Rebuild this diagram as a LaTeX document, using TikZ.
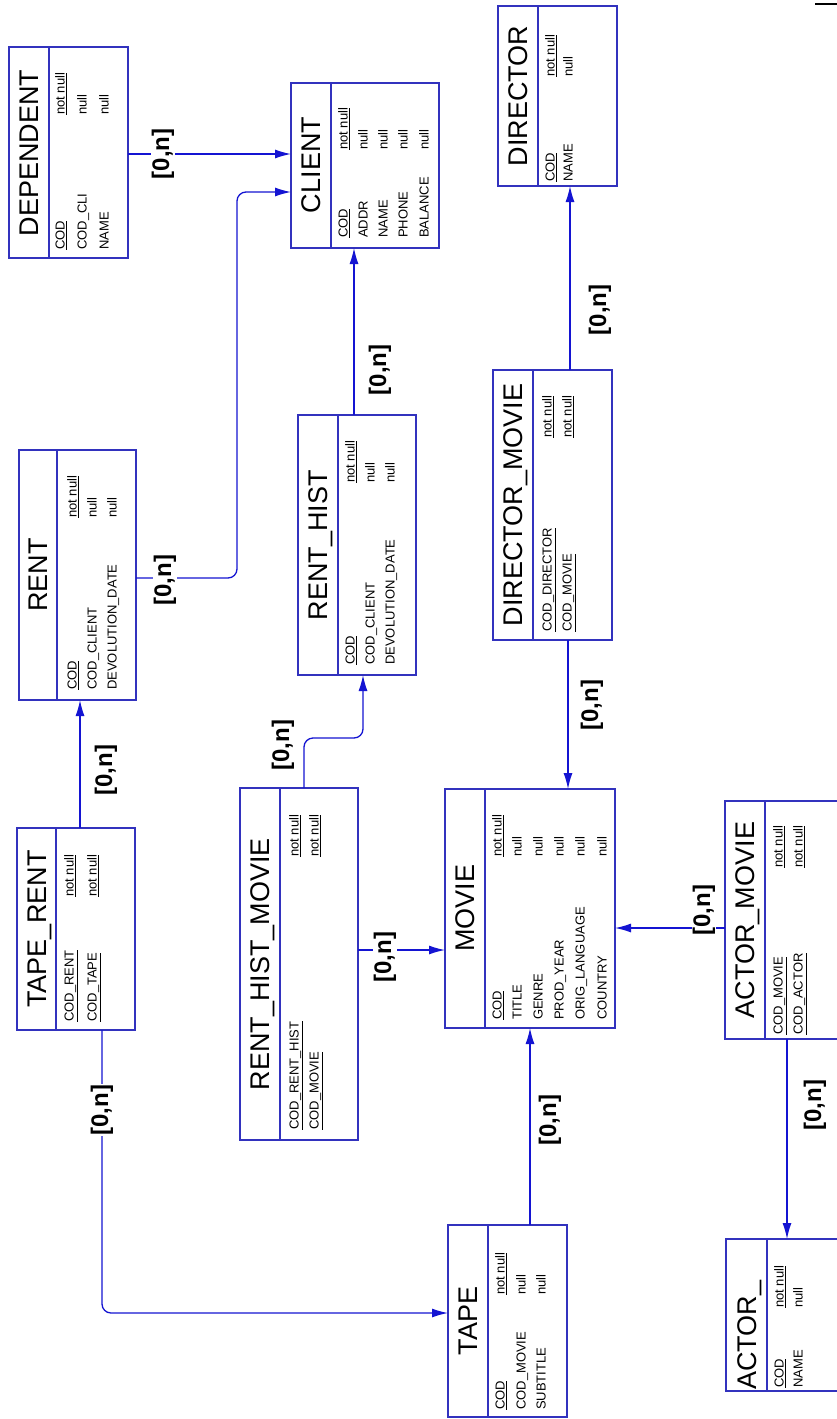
\documentclass[tikz,border=0pt]{standalone}
\usepackage{fontspec}
\setmainfont{Liberation Sans}
\usetikzlibrary{arrows.meta,fit}

\definecolor{erblue}{RGB}{50,50,190}
\definecolor{fkblue}{RGB}{20,20,210}

\tikzset{
  tbl/.style={draw=erblue, line width=1.2pt, inner sep=0pt, outer sep=0pt},
  ttl/.style={rotate=90, anchor=base, inner sep=0pt, font=\fontsize{27}{27}\selectfont},
  attr/.style={rotate=90, anchor=base west, inner sep=0pt, font=\fontsize{13}{13}\selectfont},
  fk/.style={draw=fkblue, line width=1.3pt, rounded corners=9pt, -{Latex[length=16pt,width=9pt]}},
  card/.style={rotate=90, fill=white, inner sep=1pt, font=\bfseries\fontsize{24}{24}\selectfont}
}

\begin{document}
\begin{tikzpicture}[x=1pt,y=-1pt]
  \clip (0,0) rectangle (837,1419);
  \fill[white] (0,0) rectangle (837,1419);
  \draw[line width=2pt] (815,4) -- (837,4);

  % Tables
  \node[tbl, fit={(9,47) (128,258)}] (dependent) {};
  \node[tbl, fit={(291,83) (439,248)}] (client) {};
  \node[tbl, fit={(498,6) (617,186)}] (director) {};
  \node[tbl, fit={(19,450) (136,700)}] (rent) {};
  \node[tbl, fit={(298,415) (416,675)}] (renthist) {};
  \node[tbl, fit={(493,370) (612,640)}] (dirmovie) {};
  \node[tbl, fit={(17,828) (135,1030)}] (taperent) {};
  \node[tbl, fit={(240,788) (358,1140)}] (rhmovie) {};
  \node[tbl, fit={(445,789) (615,1028)}] (movie) {};
  \node[tbl, fit={(725,801) (850,1039)}] (actormovie) {};
  \node[tbl, fit={(448,1225) (567,1417)}] (tape) {};
  \node[tbl, fit={(726,1239) (850,1391)}] (actor) {};

  % Dividers
  \foreach \x/\t/\b in {49/47/258, 331/83/248, 538/6/186, 57/450/700, 338/415/675,
                        533/370/640, 56/828/1030, 280/788/1140, 485/789/1028,
                        765/801/1039, 488/1225/1417, 767/1239/1391}
    \draw[draw=erblue, line width=1.2pt] (\x,\t) -- (\x,\b);

  % Titles
  \node[ttl] (t-dependent) at (38,153) {DEPENDENT};
  \node[ttl] (t-client) at (320,165) {CLIENT};
  \node[ttl] (t-director) at (527,96) {DIRECTOR};
  \node[ttl] (t-rent) at (47,575) {RENT};
  \node[ttl] (t-renthist) at (327,545) {RENT\_HIST};
  \node[ttl] (t-dirmovie) at (522,505) {DIRECTOR\_MOVIE};
  \node[ttl] (t-taperent) at (46,929) {TAPE\_RENT};
  \node[ttl] (t-rhmovie) at (269,964) {RENT\_HIST\_MOVIE};
  \node[ttl] (t-movie) at (474,908) {MOVIE};
  \node[ttl] (t-actormovie) at (754,920) {ACTOR\_MOVIE};
  \node[ttl] (t-tape) at (477,1321) {TAPE};
  \node[ttl] (t-actor) at (756,1335) {ACTOR\_};

  % Columns: DEPENDENT
  \foreach \x/\a/\n [count=\i] in {60/\underline{COD}/\underline{not null},
                                   82/COD\_CLI/null, 104/NAME/null} {
    \node[attr] (dep-a\i) at (\x+4.5,250) {\a};
    \node[attr] (dep-n\i) at (\x+4.5,115) {\n};
  }
  % CLIENT
  \foreach \x/\a/\n [count=\i] in {343/\underline{COD}/\underline{not null}, 363/ADDR/null,
                                   383/NAME/null, 403/PHONE/null, 424/BALANCE/null} {
    \node[attr] (cli-a\i) at (\x+4.5,238) {\a};
    \node[attr] (cli-n\i) at (\x+4.5,150) {\n};
  }
  % DIRECTOR
  \foreach \x/\a/\n [count=\i] in {550/\underline{COD}/\underline{not null}, 568/NAME/null} {
    \node[attr] (dir-a\i) at (\x+4.5,182) {\a};
    \node[attr] (dir-n\i) at (\x+4.5,77) {\n};
  }
  % RENT
  \foreach \x/\a/\n [count=\i] in {72/\underline{COD}/\underline{not null},
                                   92/COD\_CLIENT/null, 112/DEVOLUTION\_DATE/null} {
    \node[attr] (ren-a\i) at (\x+4.5,690) {\a};
    \node[attr] (ren-n\i) at (\x+4.5,518) {\n};
  }
  % RENT_HIST
  \foreach \x/\a/\n [count=\i] in {350/\underline{COD}/\underline{not null},
                                   370/COD\_CLIENT/null, 390/DEVOLUTION\_DATE/null} {
    \node[attr] (rh-a\i) at (\x+4.5,665) {\a};
    \node[attr] (rh-n\i) at (\x+4.5,483) {\n};
  }
  % DIRECTOR_MOVIE
  \foreach \x/\a [count=\i] in {547/COD\_DIRECTOR, 567/COD\_MOVIE} {
    \node[attr] (dm-a\i) at (\x+4.5,632) {\underline{\a}};
    \node[attr] (dm-n\i) at (\x+4.5,438) {\underline{not null}};
  }
  % TAPE_RENT
  \foreach \x/\a [count=\i] in {69/COD\_RENT, 92/COD\_TAPE} {
    \node[attr] (tr-a\i) at (\x+4.5,1022) {\underline{\a}};
    \node[attr] (tr-n\i) at (\x+4.5,897) {\underline{not null}};
  }
  % RENT_HIST_MOVIE
  \foreach \x/\a [count=\i] in {294/COD\_RENT\_HIST, 314/COD\_MOVIE} {
    \node[attr] (rhm-a\i) at (\x+4.5,1130) {\underline{\a}};
    \node[attr] (rhm-n\i) at (\x+4.5,857) {\underline{not null}};
  }
  % MOVIE
  \foreach \x/\a/\n [count=\i] in {497/\underline{COD}/\underline{not null}, 517/TITLE/null,
                                   538/GENRE/null, 559/PROD\_YEAR/null,
                                   580/ORIG\_LANGUAGE/null, 602/COUNTRY/null} {
    \node[attr] (mov-a\i) at (\x+4.5,1020) {\a};
    \node[attr] (mov-n\i) at (\x+4.5,857) {\n};
  }
  % ACTOR_MOVIE
  \foreach \x/\a [count=\i] in {778/COD\_MOVIE, 798/COD\_ACTOR} {
    \node[attr] (am-a\i) at (\x+4.5,1035) {\underline{\a}};
    \node[attr] (am-n\i) at (\x+4.5,868) {\underline{not null}};
  }
  % TAPE
  \foreach \x/\a/\n [count=\i] in {500/\underline{COD}/\underline{not null},
                                   521/COD\_MOVIE/null, 541/SUBTITLE/null} {
    \node[attr] (tap-a\i) at (\x+4.5,1410) {\a};
    \node[attr] (tap-n\i) at (\x+4.5,1295) {\n};
  }
  % ACTOR_
  \foreach \x/\a/\n [count=\i] in {779/\underline{COD}/\underline{not null}, 798/NAME/null} {
    \node[attr] (act-a\i) at (\x+4.5,1388) {\a};
    \node[attr] (act-n\i) at (\x+4.5,1308) {\n};
  }

  % References
  \draw[fk] (dependent.east |- 0,154) -- (client.west |- 0,154);
  \draw[fk] (rent.east |- 0,578) -- (237,578) -- (237,192) -- (client.west |- 0,192);
  \draw[fk] (renthist.north -| 354,0) -- (client.south -| 354,0);
  \draw[fk] (dirmovie.north -| 570,0) -- (director.south -| 570,0);
  \draw[fk] (dirmovie.south -| 568,0) -- (movie.north -| 568,0);
  \draw[fk] (taperent.north -| 80,0) -- (rent.south -| 80,0);
  \draw[fk] (taperent.south -| 102,0) -- (102,1313) -- (tape.west |- 0,1313);
  \draw[fk] (rhmovie.north -| 304,0) -- (304,738) -- (363,738) -- (renthist.south -| 363,0);
  \draw[fk] (rhmovie.east |- 0,950) -- (movie.west |- 0,950);
  \draw[fk] (actormovie.west |- 0,928) -- (movie.east |- 0,928);
  \draw[fk] (tape.north -| 530,0) -- (movie.south -| 530,0);
  \draw[fk] (actormovie.south -| 787,0) -- (actor.north -| 787,0);

  % Cardinalities
  \foreach \x/\y [count=\i] in {163/154, 165/580, 380/370, 600/310, 592/705, 106/770,
                                102/1110, 283/745, 385/957, 704/910, 550/1120, 815/1105}
    \node[card] (card\i) at (\x,\y) {[0,n]};
\end{tikzpicture}
\end{document}
